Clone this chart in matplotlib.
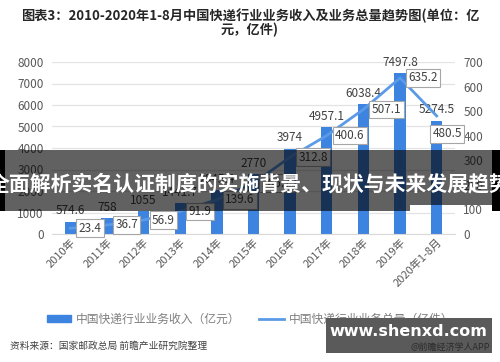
import numpy as np
import matplotlib
matplotlib.use('Agg')
import matplotlib.pyplot as plt
from matplotlib.patches import Rectangle, Patch
from matplotlib.lines import Line2D

plt.rcParams['font.family'] = ['Noto Sans CJK SC', 'DejaVu Sans']

# ---- data ----
years = ['2010年', '2011年', '2012年', '2013年', '2014年', '2015年',
         '2016年', '2017年', '2018年', '2019年', '2020年1-8月']
revenue = [574.6, 758, 1055, 1441.7, 2045.4, 2770, 3974, 4957.1, 6038.4, 7497.8, 5274.5]
revenue_lbl = ['574.6', '758', '1055', '1441.7', '2045.4', '2770', '3974',
               '4957.1', '6038.4', '7497.8', '5274.5']
volume = [23.4, 36.7, 56.9, 91.9, 139.6, 206.7, 312.8, 400.6, 507.1, 635.2, 480.5]
left_ticks = [0, 1000, 2000, 3000, 4000, 5000, 6000, 7000, 8000]
right_ticks = [0, 100, 200, 300, 400, 500, 600, 700]

bar_c = '#3d83e0'
line_c = '#5b9ae6'
grey = '#595959'

W, H = 500, 362
fig = plt.figure(figsize=(W / 100, H / 100), dpi=100)
ax = fig.add_axes([52 / W, 1 - 234 / H, 403 / W, 172 / H])
ax2 = ax.twinx()

x = np.arange(len(years))
ax.bar(x, revenue, width=0.31, color=bar_c, zorder=2)
for xi, v, s in zip(x, revenue, revenue_lbl):
    ax.annotate(s, (xi, v), xytext=(0, 3), textcoords='offset points',
                ha='center', va='bottom', fontsize=8.5, color='#404040')

ax.set_xlim(-0.5, len(years) - 0.5)
ax.set_ylim(0, 8000)
ax.set_yticks(left_ticks)
ax.grid(axis='y', color='#e3e3e3', lw=0.9, zorder=0)
ax.set_axisbelow(True)
for sp in ax.spines.values():
    sp.set_visible(False)
for sp in ax2.spines.values():
    sp.set_visible(False)
ax.spines['bottom'].set_visible(True)
ax.spines['bottom'].set_color('#d9d9d9')
ax.tick_params(axis='y', length=0, labelsize=8.5, labelcolor=grey, pad=6)
ax.tick_params(axis='x', length=0, labelsize=8, labelcolor=grey, pad=2)
ax.set_xticks(x)
ax.set_xticklabels(years, rotation=45, ha='right', rotation_mode='anchor')

ax2.plot(x, volume, color=line_c, lw=2, zorder=3)
ax2.set_ylim(0, 700)
ax2.set_yticks(right_ticks)
ax2.tick_params(axis='y', length=0, labelsize=8.5, labelcolor=grey, pad=6)
box = dict(boxstyle='square,pad=0.2', fc='white', ec='#a6a6a6', lw=0.8)
for i, v in enumerate(volume):
    if i == len(volume) - 1:
        off = (-3, -13)
    else:
        off = (6, 0)
    ax2.annotate(f'{v:.1f}', (i, v), xytext=off, textcoords='offset points',
                 ha='left', va='center', fontsize=8.5, color='#404040', bbox=box, zorder=4)

# title
fig.text(0.5, 1 - 16 / H, '图表3：2010-2020年1-8月中国快递行业业务收入及业务总量趋势图(单位：亿',
         ha='center', va='center', fontsize=9.5, fontweight='bold', color='#262626')
fig.text(0.5, 1 - 30 / H, '元，亿件)', ha='center', va='center',
         fontsize=9.5, fontweight='bold', color='#262626')

# legend
handles = [Patch(color=bar_c), Line2D([0], [0], color=line_c, lw=2)]
fig.legend(handles, ['中国快递行业业务收入（亿元）', '中国快递行业业务总量（亿件）'],
           loc='center', bbox_to_anchor=(0.5, 1 - 319 / H), ncol=2, frameon=False,
           fontsize=8.5, labelcolor='#7f7f7f', handlelength=2.1, handleheight=0.6,
           columnspacing=1.6, handletextpad=0.4)

fig.text(10 / W, 1 - 346 / H, '资料来源：国家邮政总局 前瞻产业研究院整理',
         ha='left', va='center', fontsize=7, color='#404040')

# overlay banner
fig.patches.append(Rectangle((0, 1 - 205 / H), 1, 55 / H, transform=fig.transFigure,
                             fc='black', alpha=0.62, ec='none', zorder=10))
fig.patches.append(Rectangle((0, 1 - 211 / H), 410 / W, 6 / H, transform=fig.transFigure,
                             fc='black', alpha=0.62, ec='none', zorder=10))
fig.patches.append(Rectangle((0, 1 - 211 / H), 5 / W, 61 / H, transform=fig.transFigure,
                             fc='black', ec='none', zorder=11))
fig.patches.append(Rectangle((492 / W, 1 - 211 / H), 8 / W, 61 / H, transform=fig.transFigure,
                             fc='black', ec='none', zorder=11))
fig.text(0.5, 1 - 184 / H, '全面解析实名认证制度的实施背景、现状与未来发展趋势',
         ha='center', va='center', fontsize=15, fontweight='bold', color='white', zorder=12)

# bottom-right watermark box
fig.patches.append(Rectangle((326 / W, 1 - 353 / H), 166 / W, 35 / H, transform=fig.transFigure,
                             fc='#5a5a5a', ec='none', zorder=10))
fig.text(408 / W, 1 - 332 / H, 'www.shenxd.com', ha='center', va='center',
         fontsize=11.5, fontweight='bold', color='white', family='DejaVu Sans', zorder=12)
fig.text(490 / W, 1 - 347 / H, '@前瞻经济学人APP', ha='right', va='center',
         fontsize=6.5, color='#2b2b2b', zorder=12)

fig.savefig('out.png', dpi=100)
